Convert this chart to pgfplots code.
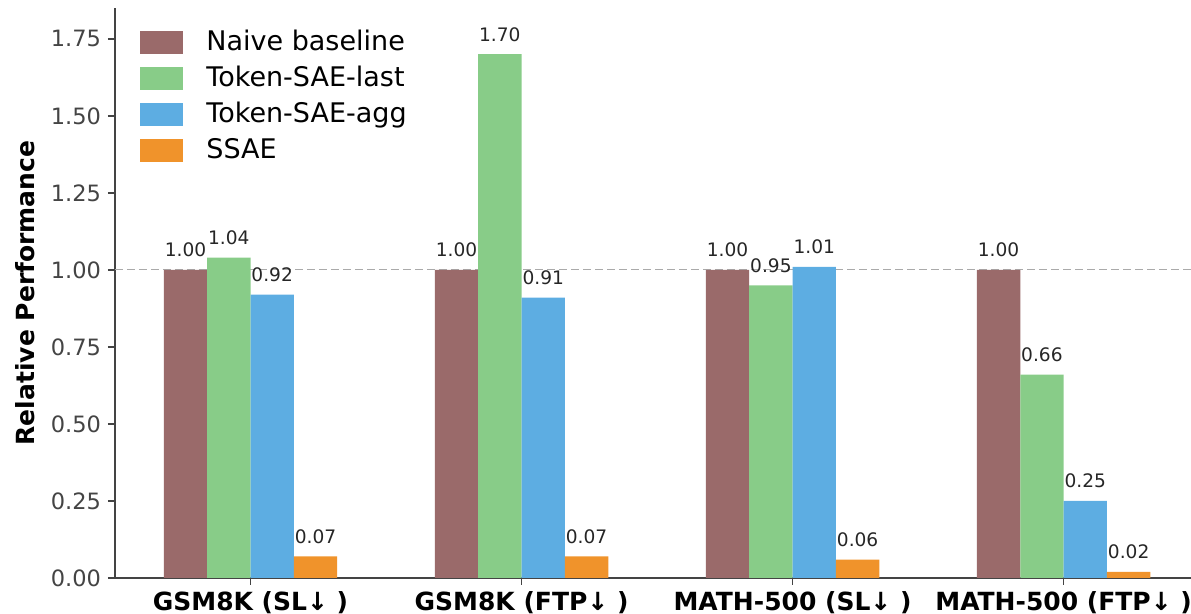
\documentclass[border=0pt]{standalone}
\usepackage{pgfplots}
\pgfplotsset{compat=1.18}
\usepackage{fontspec}
\setmainfont{DejaVu Sans}
\definecolor{cNaive}{RGB}{154,106,106}
\definecolor{cLast}{RGB}{136,204,136}
\definecolor{cAgg}{RGB}{93,173,226}
\definecolor{cSSAE}{RGB}{240,147,43}
\definecolor{spine}{RGB}{68,68,68}
\pgfplotsset{
  /pgf/number format/assume math mode=true,
  mybar/.style={ybar, bar width=0.16, bar shift=0pt, draw=none, fill=#1,
    legend image code/.code={\fill[fill=#1] (0pt,-5.75pt) rectangle (21.5pt,5.75pt);},
    nodes near coords={\pgfmathprintnumber[fixed,fixed zerofill,precision=2]{\pgfplotspointmeta}},
    every node near coord/.append style={font=\fontsize{9.3}{10}\selectfont, text=black!85, anchor=base, yshift=6.5pt, inner sep=0pt},
  },
}
\begin{document}
\begin{tikzpicture}
\begin{axis}[
  at={(0,0)}, anchor=south west,
  width=538pt, height=285pt, scale only axis,
  xmin=-0.5, xmax=3.47, ymin=0, ymax=1.85,
  axis x line*=bottom, axis y line*=left,
  axis line style={spine, line width=0.75pt},
  tick style={spine, line width=0.75pt},
  tick align=outside, major tick length=3.5pt,
  xtick={0,1,2,3},
  xticklabels={GSM8K (SL↓ ), GSM8K (FTP↓ ), MATH-500 (SL↓ ), MATH-500 (FTP↓ )},
  xticklabel style={font=\fontsize{12.5}{14}\bfseries, text=black, yshift=0.5pt},
  ytick={0,0.25,0.5,0.75,1,1.25,1.5,1.75},
  yticklabel style={font=\fontsize{11.25}{13}\selectfont, text=spine, /pgf/number format/.cd, fixed, fixed zerofill, precision=2},
  ylabel={Relative Performance},
  ylabel style={font=\fontsize{12.5}{14}\bfseries, at={(axis description cs:-0.0836,0.5)}, anchor=center},
  clip=false,
  legend style={draw=none, fill=none, at={(axis description cs:0,1)}, anchor=north west,
    xshift=12.5pt, yshift=-11.5pt, inner sep=0pt, row sep=6.5pt,
    font=\fontsize{13.5}{16}\selectfont,
    nodes={inner sep=0pt, text height=9.8pt, text depth=1.7pt},
    /tikz/every odd column/.append style={column sep=11.5pt}},
  legend cell align=left,
]
\addplot[forget plot, sharp plot, color={rgb,255:red,170;green,170;blue,170}, line width=0.6pt, dash pattern=on 4pt off 2pt] coordinates {(-0.5,1) (3.47,1)};
\addplot[mybar=cNaive] coordinates {(-0.24,1.00) (0.76,1.00) (1.76,1.00) (2.76,1.00)};
\addplot[mybar=cLast] coordinates {(-0.08,1.04) (0.92,1.70) (1.92,0.95) (2.92,0.66)};
\addplot[mybar=cAgg] coordinates {(0.08,0.92) (1.08,0.91) (2.08,1.01) (3.08,0.25)};
\addplot[mybar=cSSAE] coordinates {(0.24,0.07) (1.24,0.07) (2.24,0.06) (3.24,0.02)};
\legend{Naive baseline, Token-SAE-last, Token-SAE-agg, SSAE}
\end{axis}
\pgfresetboundingbox
\useasboundingbox (-57.5pt,-18pt) rectangle (538pt,289pt);
\end{tikzpicture}
\end{document}
